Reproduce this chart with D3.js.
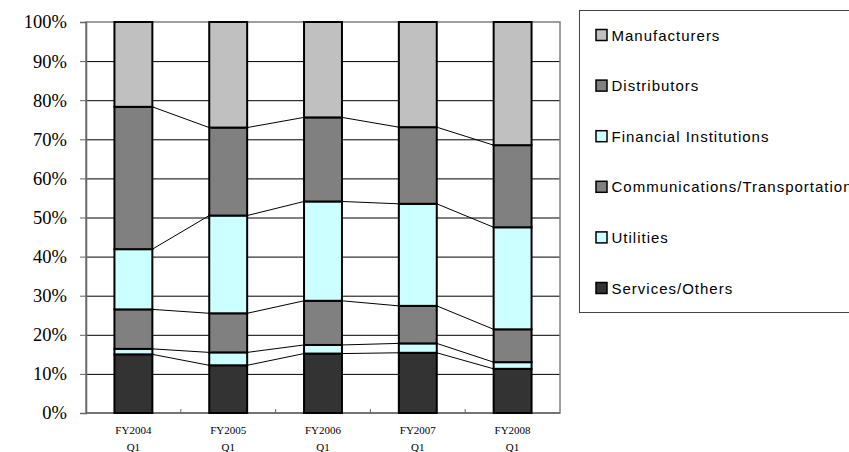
<!DOCTYPE html>
<html><head><meta charset="utf-8">
<script src="https://cdn.jsdelivr.net/npm/d3@7"></script>
<style>body{margin:0;background:#fff}svg{display:block}</style>
</head><body>
<svg id="c" width="849" height="452"></svg>
<script>
const categories = ["FY2004|Q1","FY2005|Q1","FY2006|Q1","FY2007|Q1","FY2008|Q1"];
const seriesNames = ["Services/Others","Utilities","Communications/Transportation","Financial Institutions","Distributors","Manufacturers"];
const servicesOthers = [15.0,12.2,15.2,15.4,11.3];
const utilities = [1.4,3.3,2.2,2.4,1.7];
const communicationsTransportation = [10.1,10.0,11.3,9.6,8.4];
const financialInstitutions = [15.4,25.0,25.4,26.1,26.1];
const distributors = [36.4,22.5,21.5,19.6,21.0];
const manufacturers = [21.7,27.0,24.4,26.9,31.5];
const yTicks = [0,10,20,30,40,50,60,70,80,90,100];
const colors = ["#333333","#CCFFFF","#808080","#CCFFFF","#808080","#C0C0C0"];
const seriesValues = [servicesOthers,utilities,communicationsTransportation,financialInstitutions,distributors,manufacturers];

const rows = categories.map((c,i)=>{const r={cat:c}; seriesNames.forEach((s,k)=>r[s]=seriesValues[k][i]); return r;});
const stacked = d3.stack().keys(seriesNames)(rows);

const SERIF = "Liberation Serif", SANS = "Liberation Sans";
const svg = d3.select("#c");
const m = {l:86,t:22,r:560,b:413};
const x = d3.scaleBand().domain(categories).range([m.l,m.r]).paddingInner(0.6).paddingOuter(0.3);
const y = d3.scaleLinear().domain([0,100]).range([m.b,m.t]);

// gridlines
svg.append("g").selectAll("line").data(yTicks.filter(t=>t>0&&t<100)).join("line")
  .attr("x1",m.l).attr("x2",m.r).attr("y1",d=>y(d)+0.5).attr("y2",d=>y(d)+0.5)
  .attr("stroke","#000").attr("stroke-width",1);
// plot border
svg.append("rect").attr("x",m.l).attr("y",m.t).attr("width",m.r-m.l).attr("height",m.b-m.t)
  .attr("fill","none").attr("stroke","#808080").attr("stroke-width",1.5);

// y axis
const yAxis = d3.axisLeft(y).tickValues(yTicks).tickFormat(d=>d+"%").tickSize(6).tickPadding(13);
const ya = svg.append("g").attr("transform",`translate(${m.l},0)`).call(yAxis)
  .attr("font-family",SERIF).attr("font-size",18.5);
ya.select(".domain").attr("stroke","#666").attr("stroke-width",1.5);
ya.selectAll(".tick line").attr("stroke","#666");
ya.selectAll("text").attr("font-family",SERIF).attr("font-size",18.5).attr("fill","#000");

// x axis line + ticks between categories
const step = x.step();
const xa = svg.append("g");
xa.append("line").attr("x1",m.l).attr("x2",m.r).attr("y1",m.b).attr("y2",m.b).attr("stroke","#666").attr("stroke-width",1.5);
xa.selectAll("line.t").data(categories.slice(1)).join("line").attr("class","t")
  .attr("x1",d=>x(d)-step*0.3).attr("x2",d=>x(d)-step*0.3).attr("y1",m.b).attr("y2",m.b-4)
  .attr("stroke","#666");
const xl = xa.selectAll("text").data(categories).join("text")
  .attr("font-family",SERIF).attr("font-size",11).attr("text-anchor","middle").attr("fill","#000");
xl.append("tspan").attr("x",d=>x(d)+x.bandwidth()/2).attr("y",434).text(d=>d.split("|")[0]);
xl.append("tspan").attr("x",d=>x(d)+x.bandwidth()/2).attr("y",451).text(d=>d.split("|")[1]);

// series lines connecting bars
stacked.slice(0,-1).forEach(layer=>{
  for(let i=0;i<categories.length-1;i++){
    svg.append("line")
      .attr("x1",x(categories[i])+x.bandwidth()).attr("y1",y(layer[i][1]))
      .attr("x2",x(categories[i+1])).attr("y2",y(layer[i+1][1]))
      .attr("stroke","#000").attr("stroke-width",1);
  }
});

// bars
stacked.forEach((layer,k)=>{
  svg.append("g").selectAll("rect").data(layer).join("rect")
    .attr("x",d=>x(d.data.cat)).attr("width",x.bandwidth())
    .attr("y",d=>y(d[1])).attr("height",d=>y(d[0])-y(d[1]))
    .attr("fill",colors[k]).attr("stroke","#000").attr("stroke-width",2);
});

// legend
svg.append("rect").attr("x",579.5).attr("y",10.5).attr("width",300).attr("height",302)
  .attr("fill","#fff").attr("stroke","#444").attr("stroke-width",1);
const legOrder = seriesNames.map((s,k)=>({s,c:colors[k]})).reverse();
const lg = svg.append("g").selectAll("g").data(legOrder).join("g")
  .attr("transform",(d,i)=>`translate(596,${35+i*50.6})`);
lg.append("rect").attr("x",0).attr("y",-5.5).attr("width",11).attr("height",11)
  .attr("fill",d=>d.c).attr("stroke","#000").attr("stroke-width",1.5);
lg.append("text").attr("x",15.5).attr("y",5.5).text(d=>d.s)
  .attr("font-family",SANS).attr("font-size",15)
  .attr("letter-spacing",1).attr("fill","#000");
</script>
</body></html>
